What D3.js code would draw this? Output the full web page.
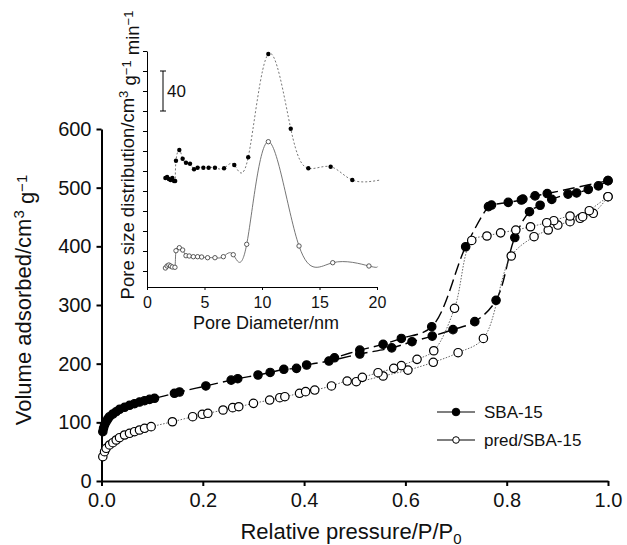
<!DOCTYPE html>
<html>
<head>
<meta charset="utf-8">
<script src="https://cdn.jsdelivr.net/npm/d3@7"></script>
<style>
  body { margin: 0; background: #fff; }
  svg { font-family: "Liberation Sans", Arial, Helvetica, sans-serif; }
</style>
</head>
<body>
<svg id="chart" width="627" height="545"></svg>
<script>
// isotherms: [relative pressure, volume adsorbed]
const sbaAdsorption = [
  [0.0026, 84], [0.004, 89.8], [0.006, 95.4], [0.0092, 101], [0.0125, 105.7], [0.0158, 109.6],
  [0.0224, 114.2], [0.029, 118.1], [0.0356, 122.2], [0.0455, 125.6], [0.0553, 129], [0.0652, 131.8],
  [0.075, 134.6], [0.085, 136.9], [0.0949, 139.2], [0.1047, 141], [0.144, 149.5], [0.154, 151.7],
  [0.206, 162], [0.256, 172], [0.269, 174.4], [0.309, 180.7], [0.333, 185], [0.360, 190.4],
  [0.385, 192], [0.405, 197.7], [0.449, 204.5], [0.510, 216.5], [0.573, 227], [0.613, 237.4],
  [0.653, 247], [0.694, 258], [0.737, 271.6], [0.779, 308], [0.816, 415], [0.845, 459],
  [0.866, 470], [0.889, 480], [0.921, 489], [0.938, 491], [0.961, 497], [0.981, 503], [1.0, 512]
];
const sbaDesorption = [
  [1.0, 512], [0.880, 490], [0.856, 486], [0.832, 480.6], [0.829, 479], [0.803, 475],
  [0.770, 470.4], [0.764, 467.6], [0.719, 399.3], [0.652, 263], [0.592, 243], [0.556, 233],
  [0.510, 223], [0.460, 210]
];
const predAdsorption = [
  [0.0026, 41.4], [0.006, 50], [0.0092, 55.7], [0.0158, 61.4], [0.0224, 65.3], [0.029, 69.9],
  [0.0356, 73.8], [0.0455, 78.4], [0.0553, 81.3], [0.0652, 84], [0.075, 86.9], [0.085, 89.8],
  [0.098, 92.6], [0.140, 101], [0.180, 109.6], [0.199, 113.7], [0.210, 115.4], [0.240, 121],
  [0.259, 125], [0.271, 126.6], [0.300, 132.4], [0.332, 138], [0.352, 142], [0.362, 143.7],
  [0.391, 149.5], [0.403, 152.3], [0.421, 155], [0.454, 162], [0.485, 170.4], [0.503, 169.3],
  [0.556, 179], [0.605, 189], [0.655, 202.3], [0.704, 218.7], [0.754, 243], [0.809, 383.5],
  [0.854, 416.4], [0.882, 427.8], [0.901, 436.3], [0.925, 442], [0.945, 447.8], [0.971, 456.3],
  [1.0, 484.6]
];
const predDesorption = [
  [1.0, 484.6], [0.963, 460.7], [0.950, 450.5], [0.925, 451.7], [0.893, 443.7], [0.879, 440.3],
  [0.847, 433.4], [0.818, 427.8], [0.788, 423], [0.761, 417.6], [0.731, 410], [0.697, 294.4],
  [0.656, 222], [0.623, 207.4], [0.592, 196.6], [0.577, 192], [0.546, 184.6], [0.515, 176.7]
];

// inset: [pore diameter nm, distribution (offset curves)]
const psdSba = [
  [1.6, 93], [1.75, 94], [1.9, 92], [2.05, 91], [2.2, 93], [2.35, 90], [2.45, 90],
  [2.52, 110.3], [2.81, 121], [3.10, 112.3], [3.39, 108.3], [3.74, 107.3], [4.09, 101.7],
  [4.40, 103.3], [4.90, 103.3], [5.36, 103.3], [5.91, 103.3], [6.70, 102.7], [7.59, 106],
  [8.80, 113.7], [10.55, 217], [12.50, 142.3], [14.03, 102.7], [15.97, 104.3], [17.85, 91]
];
const psdSbaEnd = [20.3, 91];
const psdPred = [
  [1.6, 3], [1.75, 5], [1.9, 6], [2.05, 5], [2.2, 4], [2.43, 3.7],
  [2.52, 20.3], [2.81, 23.3], [3.10, 21], [3.39, 15.3], [3.67, 15], [4.03, 14.3],
  [4.40, 14.3], [4.75, 14], [5.27, 13.3], [5.91, 13.3], [6.64, 14.3], [7.50, 16.3],
  [8.67, 26.7], [10.55, 129.3], [13.22, 25], [16.15, 8.3], [19.30, 5]
];
const psdPredEnd = [20.05, 4.3];

const pressureTicks = [0, 0.2, 0.4, 0.6, 0.8, 1.0];
const volumeTicks = [0, 100, 200, 300, 400, 500, 600];
const diameterTicks = [0, 5, 10, 15, 20];
const psdTicks = d3.range(0, 221, 20);
const scaleBarBase = 160, scaleBarSize = 40;
const legendNames = ["SBA-15", "pred/SBA-15"];

const svg = d3.select("#chart");

// ---- main plot
const x = d3.scaleLinear().domain([0, 1]).range([101.5, 608]);
const y = d3.scaleLinear().domain([0, 600]).range([481, 129]);
const line = d3.line().x(d => x(d[0])).y(d => y(d[1])).curve(d3.curveCatmullRom);

const styleAxis = (g, width, size) => {
  g.select(".domain").attr("stroke-width", width);
  g.selectAll(".tick line").attr("stroke-width", width);
  g.selectAll(".tick text").attr("font-size", size).attr("fill", "#111");
};

svg.append("g").attr("transform", `translate(0,${y(0)})`)
  .call(d3.axisBottom(x).tickValues(pressureTicks).tickFormat(d3.format(".1f")).tickSize(5).tickSizeOuter(0).tickPadding(7))
  .call(g => styleAxis(g, 2, 20));
svg.append("g").attr("transform", `translate(${x(0)},0)`)
  .call(d3.axisLeft(y).tickValues(volumeTicks).tickFormat(d3.format("d")).tickSize(5).tickSizeOuter(0).tickPadding(5))
  .call(g => styleAxis(g, 2, 20));

const series = [
  { branches: [sbaAdsorption, sbaDesorption], filled: true, dash: "12,5", color: "#000", width: 1.4 },
  { branches: [predAdsorption, predDesorption], filled: false, dash: "1.5,1.5", color: "#555", width: 0.9 }
];
series.forEach(s => {
  s.branches.forEach(b => svg.append("path").datum(b).attr("d", line)
    .attr("fill", "none").attr("stroke", s.color).attr("stroke-width", s.width).attr("stroke-dasharray", s.dash));
});
series.forEach(s => {
  svg.append("g").selectAll("circle").data(s.branches.flat()).join("circle")
    .attr("cx", d => x(d[0])).attr("cy", d => y(d[1])).attr("r", 4.2)
    .attr("fill", s.filled ? "#000" : "#fff").attr("stroke", "#000").attr("stroke-width", 1.2);
});

// titles
svg.append("text").attr("transform", "translate(31,300) rotate(-90)").attr("text-anchor", "middle")
  .attr("font-size", 22).attr("fill", "#111")
  .call(t => {
    t.append("tspan").text("Volume adsorbed/cm");
    t.append("tspan").attr("font-size", 15).attr("dy", "-0.45em").text("3");
    t.append("tspan").attr("dy", "0.45em").text(" g");
    t.append("tspan").attr("font-size", 15).attr("dy", "-0.45em").text("−1");
  });
svg.append("text").attr("x", 351).attr("y", 539).attr("text-anchor", "middle")
  .attr("font-size", 22).attr("fill", "#111")
  .call(t => {
    t.append("tspan").text("Relative pressure/P/P");
    t.append("tspan").attr("font-size", 15).attr("dy", "0.3em").text("0");
  });

// legend
const legend = svg.append("g").selectAll("g").data(series).join("g")
  .attr("transform", (d, i) => `translate(437,${412 + i * 28})`);
legend.append("line").attr("x1", 0).attr("x2", 38).attr("stroke", "#000").attr("stroke-width", 1.2);
legend.append("circle").attr("cx", 19).attr("r", (d) => d.filled ? 3.8 : 3.3)
  .attr("fill", d => d.filled ? "#000" : "#fff").attr("stroke", "#000").attr("stroke-width", 1);
legend.append("text").attr("x", 47).attr("dy", "0.35em").attr("font-size", 17).attr("fill", "#111")
  .text((d, i) => legendNames[i]);

// ---- inset
const ix = d3.scaleLinear().domain([0, 20]).range([147, 377]);
const iy = d3.scaleLinear().domain([-16, 220]).range([287, 51]);
const iline = d3.line().x(d => ix(d[0])).y(d => iy(d[1])).curve(d3.curveNatural);

svg.append("g").attr("transform", `translate(0,${iy(-16)})`)
  .call(d3.axisBottom(ix).tickValues(diameterTicks).tickSize(3).tickSizeOuter(0).tickPadding(7))
  .call(g => styleAxis(g, 1, 16));
svg.append("g").attr("transform", `translate(${ix(0)},0)`)
  .call(d3.axisLeft(iy).tickValues(psdTicks).tickFormat("").tickSize(4).tickSizeOuter(0))
  .call(g => styleAxis(g, 1, 16));

svg.append("path").datum([...psdSba, psdSbaEnd]).attr("d", iline)
  .attr("fill", "none").attr("stroke", "#666").attr("stroke-width", 0.9).attr("stroke-dasharray", "2,2");
svg.append("path").datum([...psdPred, psdPredEnd]).attr("d", iline)
  .attr("fill", "none").attr("stroke", "#666").attr("stroke-width", 0.9);
svg.append("g").selectAll("circle").data(psdSba).join("circle")
  .attr("cx", d => ix(d[0])).attr("cy", d => iy(d[1])).attr("r", 2.2).attr("fill", "#000");
svg.append("g").selectAll("circle").data(psdPred).join("circle")
  .attr("cx", d => ix(d[0])).attr("cy", d => iy(d[1])).attr("r", 2.2)
  .attr("fill", "#fff").attr("stroke", "#333").attr("stroke-width", 0.8);

// scale bar
const bar = svg.append("g").attr("stroke", "#000").attr("stroke-width", 1);
bar.append("line").attr("x1", 163).attr("x2", 163).attr("y1", iy(scaleBarBase)).attr("y2", iy(scaleBarBase + scaleBarSize));
[scaleBarBase, scaleBarBase + scaleBarSize].forEach(v =>
  bar.append("line").attr("x1", 160).attr("x2", 166).attr("y1", iy(v)).attr("y2", iy(v)));
svg.append("text").attr("x", 167).attr("y", iy(scaleBarBase + scaleBarSize / 2)).attr("dy", "0.35em")
  .attr("font-size", 17).attr("fill", "#111").text(scaleBarSize);

svg.append("text").attr("x", 266).attr("y", 329).attr("text-anchor", "middle")
  .attr("font-size", 18).attr("fill", "#111").text("Pore Diameter/nm");
svg.append("text").attr("transform", "translate(134,155) rotate(-90)").attr("text-anchor", "middle")
  .attr("font-size", 18.5).attr("fill", "#111")
  .call(t => {
    t.append("tspan").text("Pore size distribution/cm");
    t.append("tspan").attr("font-size", 13).attr("dy", "-0.45em").text("3");
    t.append("tspan").attr("dy", "0.45em").text(" g");
    t.append("tspan").attr("font-size", 13).attr("dy", "-0.45em").text("−1");
    t.append("tspan").attr("dy", "0.45em").text(" min");
    t.append("tspan").attr("font-size", 13).attr("dy", "-0.45em").text("−1");
  });
</script>
</body>
</html>
